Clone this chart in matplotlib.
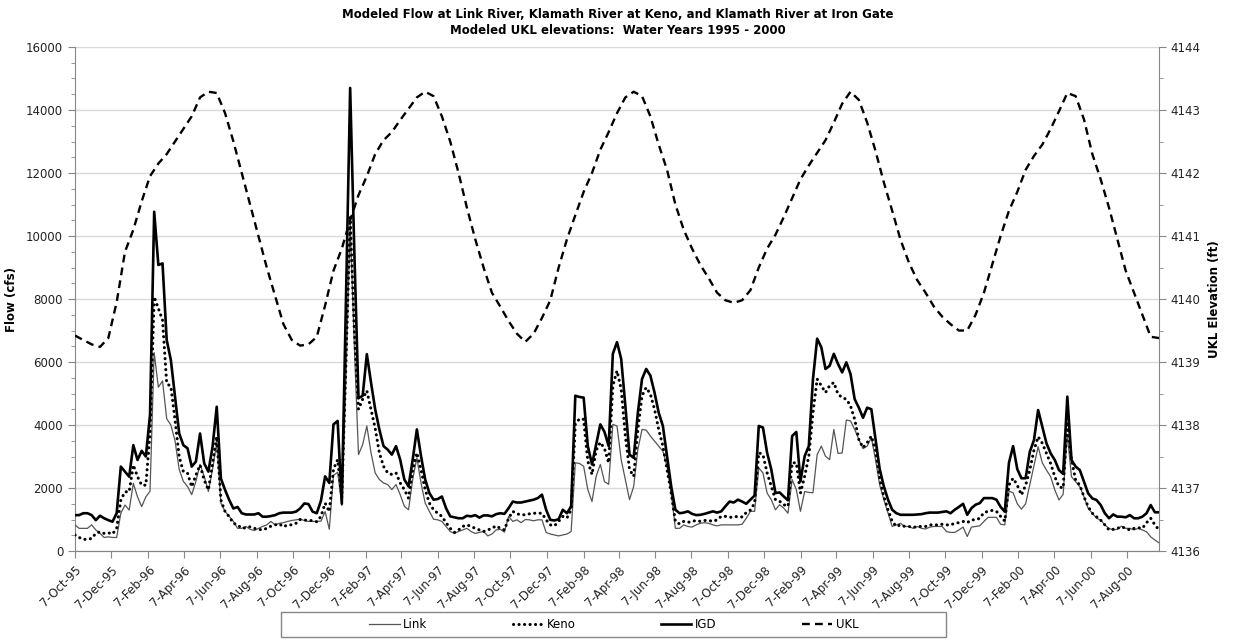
import matplotlib
matplotlib.use("Agg")
import matplotlib.pyplot as plt
from matplotlib import font_manager
from matplotlib.lines import Line2D
from matplotlib.patches import Rectangle
import pandas as pd

#===== FONT =====
names = {f.name for f in font_manager.fontManager.ttflist}
FONT = 'Liberation Sans Narrow' if 'Liberation Sans Narrow' in names else 'DejaVu Sans'
plt.rcParams['font.family'] = [FONT, 'DejaVu Sans']

#===== DATA (weekly, starting 7-Oct-95) =====
start_date = '1995-10-07'
end_date = '2000-09-30'

link = [830, 720, 720, 720, 830, 670, 560, 430, 450, 430,
        430, 1200, 1460, 1300, 2150, 1720, 1410, 1720, 1900, 6300,
        5200, 5400, 4200, 4000, 3500, 2590, 2210, 2050, 1790, 2210,
        2750, 2370, 1890, 2590, 3440, 1520, 1260, 1100, 940, 720,
        720, 780, 690, 650, 720, 780, 830, 940, 830, 880,
        900, 940, 970, 990, 1010, 970, 940, 940, 940, 950,
        1250, 690, 2400, 2500, 1450, 5500, 10400, 6500, 3060, 3380,
        3970, 3120, 2480, 2270, 2160, 2110, 1950, 2110, 1790, 1420,
        1310, 2270, 2960, 2160, 1520, 1260, 1010, 990, 940, 780,
        620, 560, 620, 670, 720, 620, 560, 590, 620, 480,
        540, 670, 690, 600, 1100, 940, 990, 900, 1000, 990,
        960, 990, 990, 590, 540, 510, 480, 510, 540, 620,
        2800, 2780, 2690, 1950, 1570, 2370, 2750, 2200, 2120, 4020,
        3970, 2900, 2270, 1630, 2050, 3220, 3860, 3840, 3650, 3490,
        3330, 3170, 2690, 1840, 720, 720, 830, 780, 760, 830,
        880, 900, 880, 830, 800, 830, 830, 830, 830, 830,
        850, 1040, 1260, 1260, 2640, 2480, 1840, 1630, 1310, 1470,
        1360, 1200, 2270, 1950, 1260, 1890, 1860, 1850, 3060, 3330,
        3010, 2900, 3860, 3100, 3110, 4160, 4130, 3860, 3540, 3250,
        3330, 3600, 2900, 2100, 1630, 1200, 780, 830, 880, 780,
        780, 720, 780, 720, 700, 760, 780, 780, 780, 620,
        590, 590, 670, 760, 460, 760, 780, 800, 940, 1070,
        1070, 1070, 850, 830, 1900, 1850, 1500, 1330, 1500, 2100,
        2700, 3310, 2800, 2570, 2360, 1940, 1620, 1800, 3700, 2360,
        2200, 2040, 1720, 1350, 1200, 1040, 980, 830, 720, 670,
        690, 790, 720, 720, 670, 720, 670, 610, 450, 350,
        260]

keno = [510, 430, 370, 370, 400, 560, 610, 560, 580, 540,
        720, 1620, 1880, 1880, 2730, 2360, 2090, 2090, 3730, 8070,
        7700, 7330, 5320, 5220, 4160, 2990, 2520, 2470, 2040, 2410,
        2730, 2250, 1940, 2780, 3630, 1620, 1250, 1090, 880, 830,
        720, 740, 770, 720, 690, 670, 720, 790, 830, 860,
        770, 830, 830, 880, 1000, 980, 980, 960, 930, 1100,
        1520, 1250, 2600, 2900, 1700, 6000, 10600, 7000, 4500, 4820,
        5090, 4500, 3900, 3120, 2690, 2480, 2430, 2480, 2160, 1950,
        1680, 2580, 3120, 2580, 1950, 1520, 1310, 1200, 1100, 900,
        720, 590, 670, 780, 830, 780, 720, 670, 620, 670,
        720, 800, 720, 670, 1040, 1260, 1180, 1150, 1150, 1180,
        1200, 1200, 1200, 990, 830, 800, 940, 1100, 1050, 1310,
        4020, 4200, 4180, 2850, 2430, 3200, 3450, 3250, 2800, 5250,
        5720, 5140, 3650, 2590, 2370, 3860, 4930, 5190, 4980, 4500,
        3860, 3330, 2590, 1840, 940, 860, 940, 910, 940, 970,
        940, 970, 970, 940, 990, 1100, 1100, 1070, 1080, 1100,
        1080, 1220, 1300, 1520, 3120, 3060, 2480, 2050, 1630, 1580,
        1470, 1420, 2800, 2800, 1840, 2370, 3010, 4390, 5460, 5250,
        5030, 5250, 5350, 4980, 4870, 4820, 4610, 4180, 3540, 3280,
        3440, 3650, 3200, 2300, 1730, 1310, 940, 780, 830, 780,
        780, 745, 780, 780, 780, 830, 830, 830, 850, 830,
        830, 880, 900, 940, 900, 990, 990, 1040, 1220, 1260,
        1290, 1260, 1100, 950, 2100, 2310, 2090, 1780, 2090, 2570,
        3200, 3630, 3420, 3100, 2780, 2360, 2040, 2000, 4100, 2900,
        2250, 2090, 1720, 1410, 1200, 1090, 980, 830, 670, 690,
        720, 770, 720, 670, 720, 740, 720, 900, 1040, 830,
        670]

igd = [1140, 1140, 1200, 1200, 1140, 980, 1120, 1040, 980, 930,
       1200, 2680, 2520, 2360, 3360, 2890, 3180, 3000, 4320, 10770,
       9080, 9130, 6700, 6060, 4900, 3730, 3360, 3260, 2680, 2840,
       3730, 2780, 2520, 3310, 4580, 2300, 1940, 1620, 1350, 1400,
       1200, 1160, 1160, 1160, 1200, 1090, 1090, 1110, 1140, 1200,
       1220, 1220, 1220, 1250, 1350, 1510, 1490, 1250, 1200, 1600,
       2370, 2160, 4020, 4130, 1500, 8000, 14700, 9500, 4850, 4930,
       6250, 5350, 4500, 3860, 3330, 3220, 3060, 3330, 2900, 2270,
       2050, 2900, 3860, 3010, 2270, 1840, 1630, 1650, 1730, 1360,
       1100, 1070, 1040, 1040, 1120, 1100, 1140, 1060, 1130, 1130,
       1100, 1170, 1200, 1180, 1360, 1570, 1540, 1540, 1570, 1600,
       1630, 1680, 1790, 1310, 990, 970, 1010, 1310, 1200, 1420,
       4930, 4890, 4870, 3330, 2750, 3380, 4020, 3780, 3330, 6260,
       6630, 6100, 4610, 3060, 2960, 4390, 5460, 5780, 5570, 5030,
       4390, 3970, 3010, 2050, 1310, 1200, 1220, 1260, 1180, 1140,
       1150, 1180, 1220, 1260, 1220, 1260, 1420, 1570, 1540, 1630,
       1570, 1500, 1630, 1760, 3970, 3920, 3120, 2590, 1840, 1860,
       1730, 1610, 3650, 3780, 2210, 3010, 3330, 5460, 6740, 6470,
       5780, 5880, 6260, 5940, 5670, 5990, 5620, 4820, 4550, 4230,
       4550, 4500, 3540, 2600, 2050, 1630, 1310, 1200, 1150, 1150,
       1150, 1150, 1160, 1170, 1200, 1220, 1220, 1220, 1240, 1260,
       1200, 1310, 1400, 1500, 1150, 1360, 1470, 1520, 1680, 1680,
       1680, 1630, 1400, 1250, 2800, 3330, 2600, 2310, 2310, 3150,
       3520, 4475, 3950, 3420, 3100, 2890, 2570, 2450, 4900, 2890,
       2680, 2570, 2200, 1830, 1670, 1620, 1460, 1200, 1040, 1160,
       1090, 1090, 1070, 1140, 1040, 1040, 1090, 1200, 1460, 1230,
       1230]

# UKL elevation, every second week
ukl = [4139.42, 4139.35, 4139.28, 4139.24, 4139.38, 4139.95, 4140.75, 4141.10, 4141.55, 4141.95,
       4142.15, 4142.30, 4142.50, 4142.70, 4142.90, 4143.20, 4143.29, 4143.27, 4142.95, 4142.50,
       4142.00, 4141.50, 4141.00, 4140.50, 4140.05, 4139.60, 4139.35, 4139.26, 4139.28, 4139.40,
       4139.90, 4140.45, 4140.80, 4141.25, 4141.65, 4141.95, 4142.30, 4142.52, 4142.65, 4142.84,
       4143.02, 4143.20, 4143.29, 4143.22, 4142.90, 4142.50, 4142.00, 4141.45, 4140.95, 4140.50,
       4140.10, 4139.88, 4139.65, 4139.45, 4139.32, 4139.45, 4139.70, 4139.98, 4140.50, 4140.95,
       4141.33, 4141.70, 4142.00, 4142.37, 4142.65, 4142.95, 4143.20, 4143.29, 4143.22, 4142.90,
       4142.45, 4142.05, 4141.50, 4141.10, 4140.80, 4140.54, 4140.33, 4140.10, 4139.98, 4139.94,
       4139.98, 4140.14, 4140.50, 4140.80, 4141.02, 4141.30, 4141.60, 4141.90, 4142.12, 4142.32,
       4142.52, 4142.80, 4143.10, 4143.29, 4143.16, 4142.80, 4142.35, 4141.85, 4141.40, 4140.94,
       4140.58, 4140.30, 4140.10, 4139.88, 4139.72, 4139.60, 4139.50, 4139.50, 4139.75, 4140.10,
       4140.55, 4141.00, 4141.40, 4141.70, 4142.05, 4142.27, 4142.45, 4142.70, 4142.98, 4143.27,
       4143.22, 4142.85, 4142.30, 4141.90, 4141.45, 4140.95, 4140.45, 4140.10, 4139.75, 4139.40,
       4139.38]

title_lines = ["Modeled Flow at Link River, Klamath River at Keno, and Klamath River at Iron Gate",
               "Modeled UKL elevations:  Water Years 1995 - 2000"]
series_names = ["Link", "Keno", "IGD", "UKL"]

week_dates = pd.date_range(start_date, periods=len(igd), freq='7D')
ukl_dates = week_dates[::2]
tick_dates = pd.date_range(start_date, '2000-08-07', freq=pd.DateOffset(months=2))
tick_labels = [d.strftime('%d-%b-%y').lstrip('0') for d in tick_dates]

#===== FIGURE =====
fig = plt.figure(figsize=(12.35, 6.42), dpi=100)
ax = fig.add_axes([0.0607, 0.1417, 0.8778, 0.7851])
ax2 = ax.twinx()

axis_gray = '#868686'
grid_gray = '#d9d9d9'

ax.plot(week_dates, link, color='#555555', lw=0.9, zorder=3)
ax.plot(week_dates, keno, color='black', lw=2.2, linestyle=(0, (0.05, 1.75)),
        dash_capstyle='round', zorder=4)
ax.plot(week_dates, igd, color='black', lw=1.9, zorder=5)
ax2.plot(ukl_dates, ukl, color='black', lw=1.7, linestyle=(0, (3.3, 2.2)))

ax.set_xlim(pd.Timestamp(start_date), pd.Timestamp(end_date))
ax.set_ylim(0, 16000)
ax2.set_ylim(4136, 4144)

ax.set_yticks(range(0, 16001, 2000))
ax.set_yticks(range(0, 16001, 500), minor=True)
ax2.set_yticks(range(4136, 4145, 1))
ax2.set_yticks([4136 + 0.5 * k for k in range(17)], minor=True)
ax.set_xticks(tick_dates)
ax.set_xticklabels(tick_labels, rotation=45, ha='right', rotation_mode='anchor', fontsize=8.5)

ax.grid(axis='y', which='major', color=grid_gray, lw=1.0)
ax.set_axisbelow(True)

for a in (ax, ax2):
    a.spines['top'].set_visible(False)
    for s in ('left', 'right', 'bottom'):
        a.spines[s].set_color(axis_gray)
    a.tick_params(which='both', color=axis_gray, direction='out', labelsize=8.5, labelcolor='#222222')
    a.tick_params(which='major', length=5)
    a.tick_params(which='minor', length=3)
ax.spines['right'].set_visible(False)
ax2.spines['left'].set_visible(False)
ax.tick_params(axis='x', length=5, pad=4)

ax.set_ylabel("Flow (cfs)", fontsize=8.5, fontweight='bold', labelpad=6)
ax2.set_ylabel("UKL Elevation (ft)", fontsize=8.5, fontweight='bold', labelpad=5)

fig.text(0.5, 0.978, title_lines[0], ha='center', va='center', fontsize=8.5, fontweight='bold')
fig.text(0.5, 0.953, title_lines[1], ha='center', va='center', fontsize=8.5, fontweight='bold')

#===== LEGEND =====
handles = [Line2D([], [], color='#555555', lw=0.9),
           Line2D([], [], color='black', lw=2.2, linestyle=(0, (0.05, 1.75)), dash_capstyle='round'),
           Line2D([], [], color='black', lw=1.9),
           Line2D([], [], color='black', lw=1.7, linestyle=(0, (3.3, 2.2)))]
fig.legend(handles, series_names, loc='center', bbox_to_anchor=(0.497, 0.0265), ncol=4,
           frameon=False, fontsize=8.5, handlelength=2.6, handletextpad=0.3, columnspacing=7.2)
fig.patches.append(Rectangle((281 / 1235, 1 - 637 / 642), 665 / 1235, 25 / 642,
                             transform=fig.transFigure, fill=False, edgecolor=axis_gray, lw=1.0))

fig.savefig('out.png', dpi=100)
